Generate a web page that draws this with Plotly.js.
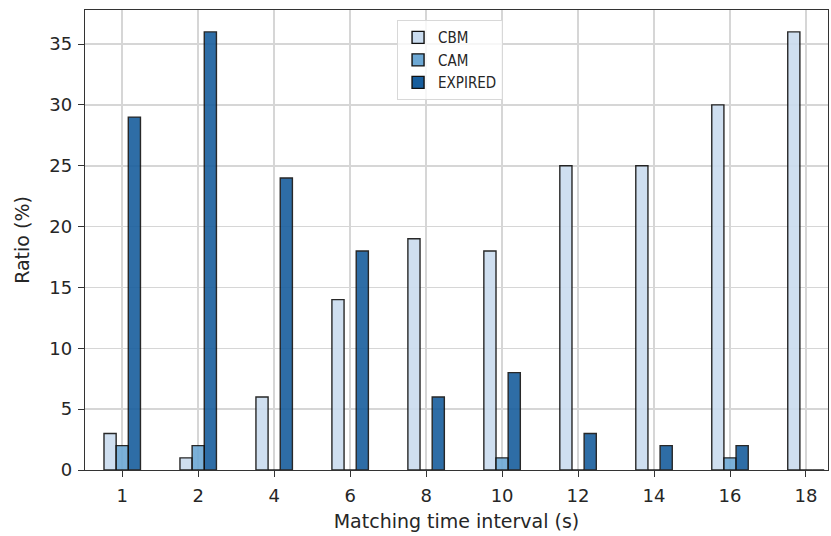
<!DOCTYPE html>
<html>
<head>
<meta charset="utf-8">
<script src="https://cdn.plot.ly/plotly-3.0.1.min.js"></script>
<style>html,body{margin:0;padding:0;background:#fff;}#chart{width:831px;height:536px;}</style>
</head>
<body>
<div id="chart"></div>
<script>
const categories = ["1", "2", "4", "6", "8", "10", "12", "14", "16", "18"];
const cbm = [3, 1, 6, 14, 19, 18, 25, 25, 30, 36];
const cam = [2, 2, 0, 0, 0, 1, 0, 0, 1, 0];
const expired = [29, 36, 24, 18, 6, 8, 3, 2, 2, 0];
const seriesNames = ["CBM", "CAM", "EXPIRED"];
const seriesColors = ["#cadcef", "#6da8d4", "#185e9d"];

const idx = categories.map((c, i) => i);
const barW = 0.16;
const offsets = [-barW, 0, barW];
const data = [cbm, cam, expired].map((vals, k) => ({
  type: "bar",
  name: seriesNames[k],
  x: idx.map(i => i + offsets[k]),
  y: vals,
  width: barW,
  marker: {color: seriesColors[k], opacity: 0.9, line: {color: "#111", width: 1.4}},
  hoverinfo: "y"
}));

const layout = {
  width: 831, height: 536,
  margin: {l: 85, r: 3, t: 10, b: 66},
  paper_bgcolor: "#fff", plot_bgcolor: "#fff",
  font: {family: "DejaVu Sans, sans-serif", color: "#262626"},
  barmode: "overlay",
  showlegend: true,
  legend: {x: 0.42, y: 0.978, xanchor: "left", yanchor: "top",
    bgcolor: "rgba(255,255,255,0.8)", bordercolor: "#d8d8d8", borderwidth: 1,
    font: {size: 15, family: "DejaVu Sans Condensed, DejaVu Sans, sans-serif", color: "#262626"},
    tracegroupgap: 4},
  xaxis: {
    range: [-0.49, 9.29], tickmode: "array", tickvals: idx, ticktext: categories,
    showgrid: true, gridcolor: "#d6d6d6", gridwidth: 1.5, zeroline: false,
    showline: true, linecolor: "#333", linewidth: 1.3, mirror: true,
    ticks: "outside", ticklen: 6, tickcolor: "#333", ticklabelstandoff: 3,
    tickfont: {size: 18},
    title: {text: "Matching time interval (s)", font: {size: 19}, standoff: 9}
  },
  yaxis: {
    range: [0, 37.8], dtick: 5, tick0: 0,
    showgrid: true, gridcolor: "#d6d6d6", gridwidth: 1.5, zeroline: false,
    showline: true, linecolor: "#333", linewidth: 1.3, mirror: true,
    ticks: "outside", ticklen: 6, tickcolor: "#333", ticklabelstandoff: 2,
    tickfont: {size: 18},
    title: {text: "Ratio (%)", font: {size: 19}, standoff: 14}
  }
};
Plotly.newPlot("chart", data, layout, {displayModeBar: false, staticPlot: true});
</script>
</body>
</html>
